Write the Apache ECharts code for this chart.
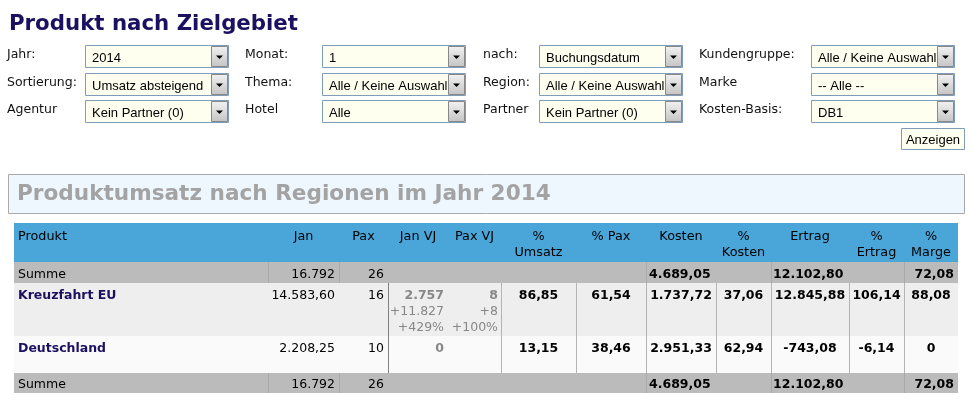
<!DOCTYPE html>
<html>
<head>
<meta charset="utf-8">
<script src="https://cdn.jsdelivr.net/npm/echarts@6/dist/echarts.min.js"></script>
<style>
html,body{margin:0;padding:0;background:#fff;}
#chart{width:973px;height:413px;}
</style>
</head>
<body>
<div id="chart"></div>
<script>
// ---------- content / data ----------
const pageTitle = 'Produkt nach Zielgebiet';
const formLabels = [
  ['Jahr:', 'Sortierung:', 'Agentur'],
  ['Monat:', 'Thema:', 'Hotel'],
  ['nach:', 'Region:', 'Partner'],
  ['Kundengruppe:', 'Marke', 'Kosten-Basis:']
];
const formValues = [
  ['2014', 'Umsatz absteigend', 'Kein Partner (0)'],
  ['1', 'Alle / Keine Auswahl', 'Alle'],
  ['Buchungsdatum', 'Alle / Keine Auswahl', 'Kein Partner (0)'],
  ['Alle / Keine Auswahl', '-- Alle --', 'DB1']
];
const buttonLabel = 'Anzeigen';
const sectionTitle = 'Produktumsatz nach Regionen im Jahr 2014';
const columnHeaders = ['Produkt', 'Jan', 'Pax', 'Jan VJ', 'Pax VJ', '%\nUmsatz', '% Pax', 'Kosten', '%\nKosten', 'Ertrag', '%\nErtrag', '%\nMarge'];
const sumLabel = 'Summe';
const products = ['Kreuzfahrt EU', 'Deutschland'];
const janValues = [14583.60, 2208.25];
const paxValues = [16, 10];
const janVJ = [2757, 0];
const janVJDiff = [11827, null];
const janVJPct = [429, null];
const paxVJ = [8, null];
const paxVJDiff = [8, null];
const paxVJPct = [100, null];
const pctUmsatz = [86.85, 13.15];
const pctPax = [61.54, 38.46];
const kosten = [1737.72, 2951.33];
const pctKosten = [37.06, 62.94];
const ertrag = [12845.88, -743.08];
const pctErtrag = [106.14, -6.14];
const pctMarge = [88.08, 0];
const sumJan = 16792;
const sumPax = 26;
const sumKosten = 4689.05;
const sumErtrag = 12102.80;
const sumMarge = 72.08;

// ---------- helpers ----------
function de(v, dec) {
  if (v === null || v === undefined) return '';
  if (v === 0) return '0';
  const neg = v < 0;
  const s = Math.abs(v).toFixed(dec);
  let [i, f] = s.split('.');
  i = i.replace(/\B(?=(\d{3})+(?!\d))/g, '.');
  return (neg ? '-' : '') + i + (f ? ',' + f : '');
}
function signed(v, suffix) {
  if (v === null || v === undefined) return '';
  return (v >= 0 ? '+' : '') + de(v, 0) + (suffix || '');
}

const VER = '"DejaVu Sans", Verdana, sans-serif';
const ARI = '"Liberation Sans", Arial, sans-serif';
const DY = 1.5;
const els = [];
function txt(x, y, text, o) {
  o = o || {};
  const align = o.align || 'left';
  els.push({
    type: 'text', silent: true, x: x, y: y + (o.dy !== undefined ? o.dy : DY), z: o.z || 10,
    style: {
      text: text,
      fill: o.fill || '#000',
      fontFamily: o.family || VER,
      fontSize: o.size || 12.5,
      fontWeight: o.weight || 'normal',
      align: align, textAlign: align,
      verticalAlign: 'middle', textVerticalAlign: 'middle',
      width: o.width, overflow: o.overflow, ellipsis: o.ellipsis
    }
  });
}
function rect(x, y, w, h, fill, stroke, z) {
  els.push({ type: 'rect', silent: true, z: z || 1, shape: { x: x, y: y, width: w, height: h },
    style: { fill: fill || 'none', stroke: stroke || 'none', lineWidth: 1 } });
}
function vline(x, y1, y2, color) {
  els.push({ type: 'line', silent: true, z: 3, shape: { x1: x + 0.5, y1: y1, x2: x + 0.5, y2: y2 },
    style: { stroke: color, lineWidth: 1 } });
}

// ---------- title ----------
txt(9, 22, pageTitle, { size: 21.3, weight: 'bold', fill: '#1c1060', dy: 2 });

// ---------- form ----------
const labelX = [7, 245, 483, 699];
const selectX = [85, 322, 539, 811];
const rowY = [45, 73, 100];
const selW = 143, selH = 22;
for (let c = 0; c < 4; c++) {
  for (let r = 0; r < 3; r++) {
    txt(labelX[c], rowY[r] + 8, formLabels[c][r], { size: 12.5, fill: '#111' });
    const sx = selectX[c], sy = rowY[r];
    rect(sx + 0.5, sy + 0.5, selW, selH, '#fffff0', '#7f9db9', 2);
    txt(sx + 7, sy + 11.5, formValues[c][r], { family: ARI, size: 13, fill: '#000', z: 4,
      width: selW - 10, overflow: 'truncate', ellipsis: '' });
    // dropdown button
    const bx = sx + selW - 17, by = sy + 1;
    els.push({ type: 'rect', silent: true, z: 6, shape: { x: bx + 0.5, y: by + 0.5, width: 16, height: selH - 2 },
      style: { fill: new echarts.graphic.LinearGradient(0, 0, 0, 1, [
        { offset: 0, color: '#f2f2f2' }, { offset: 1, color: '#c4c4c4' }]), stroke: '#888888', lineWidth: 1 } });
    const cx = bx + 8.5, cy = by + 11;
    els.push({ type: 'polygon', silent: true, z: 7,
      shape: { points: [[cx - 3.5, cy - 1.5], [cx + 3.5, cy - 1.5], [cx, cy + 2]] },
      style: { fill: '#000' } });
  }
}
rect(901.5, 128.5, 63, 21, '#fffff0', '#7f9db9', 2);
txt(933, 138.5, buttonLabel, { family: ARI, size: 13, align: 'center', z: 4 });

// ---------- section header ----------
rect(8.5, 174.5, 956, 39, '#eef6fe', '#aaaaaa', 1);
txt(17, 193, sectionTitle, { size: 21.6, weight: 'bold', fill: '#a3a3a3', dy: 1 });

// ---------- table ----------
const edges = [14, 268, 339, 388, 448, 501, 576, 646, 716, 771, 849, 904, 958];
const tTop = 223, hBot = 262, s1Bot = 283, r1Bot = 336, r2Bot = 373, s2Bot = 393;
rect(edges[0], tTop, edges[12] - edges[0], hBot - tTop, '#4aa6d9');
rect(edges[0], hBot, edges[12] - edges[0], s1Bot - hBot, '#bbbbbb');
rect(edges[0], s1Bot, edges[12] - edges[0], r1Bot - s1Bot, '#eeeeee');
rect(edges[0], r1Bot, edges[12] - edges[0], r2Bot - r1Bot, '#fafafa');
rect(edges[0], r2Bot, edges[12] - edges[0], s2Bot - r2Bot, '#bbbbbb');

// grid lines
[1, 2, 7, 9, 11].forEach(i => { vline(edges[i], hBot, s1Bot, '#a9a9a9'); vline(edges[i], r2Bot, s2Bot, '#a9a9a9'); });
vline(edges[3], s1Bot, r2Bot, '#808080');
[5, 6, 7, 8, 9, 10, 11].forEach(i => vline(edges[i], s1Bot, r2Bot, '#b4b4b4'));

// header labels
const center = i => (edges[i] + edges[i + 1]) / 2;
columnHeaders.forEach((h, i) => {
  const lines = h.split('\n');
  lines.forEach((ln, k) => {
    if (i === 0) txt(18, 235 + k * 16, ln, { size: 12.8 });
    else txt(center(i), 235 + k * 16, ln, { size: 12.8, align: 'center' });
  });
});

// summe rows
function sumRow(yc) {
  txt(18, yc, sumLabel);
  txt(edges[2] - 4, yc, de(sumJan, 0), { align: 'right' });
  txt(edges[3] - 4, yc, de(sumPax, 0), { align: 'right' });
  txt(edges[7] + 3, yc, de(sumKosten, 2), { weight: 'bold' });
  txt(edges[9] + 2, yc, de(sumErtrag, 2), { weight: 'bold' });
  txt(edges[12] - 4, yc, de(sumMarge, 2), { weight: 'bold', align: 'right' });
}
sumRow(273);
sumRow(383);

// data rows
const rowCenters = [294, 347];
products.forEach((p, r) => {
  const y = rowCenters[r];
  txt(18, y, p, { weight: 'bold', fill: '#1c1060' });
  txt(edges[2] - 4, y, de(janValues[r], 2), { align: 'right' });
  txt(edges[3] - 4, y, de(paxValues[r], 0), { align: 'right' });
  txt(edges[4] - 4, y, de(janVJ[r], 0), { align: 'right', weight: 'bold', fill: '#888' });
  txt(edges[4] - 4, y + 16, signed(janVJDiff[r]), { align: 'right', fill: '#888' });
  txt(edges[4] - 4, y + 32, signed(janVJPct[r], '%'), { align: 'right', fill: '#888' });
  txt(edges[5] - 3, y, de(paxVJ[r], 0), { align: 'right', weight: 'bold', fill: '#888' });
  txt(edges[5] - 3, y + 16, signed(paxVJDiff[r]), { align: 'right', fill: '#888' });
  txt(edges[5] - 3, y + 32, signed(paxVJPct[r], '%'), { align: 'right', fill: '#888' });
  const vals = [pctUmsatz[r], pctPax[r], kosten[r], pctKosten[r], ertrag[r], pctErtrag[r], pctMarge[r]];
  vals.forEach((v, k) => txt(center(5 + k), y, de(v, 2), { align: 'center', weight: 'bold' }));
});

const chart = echarts.init(document.getElementById('chart'), null, { renderer: 'canvas', width: 973, height: 413 });
chart.setOption({ backgroundColor: '#ffffff', animation: false, graphic: { elements: els } });
</script>
</body>
</html>
